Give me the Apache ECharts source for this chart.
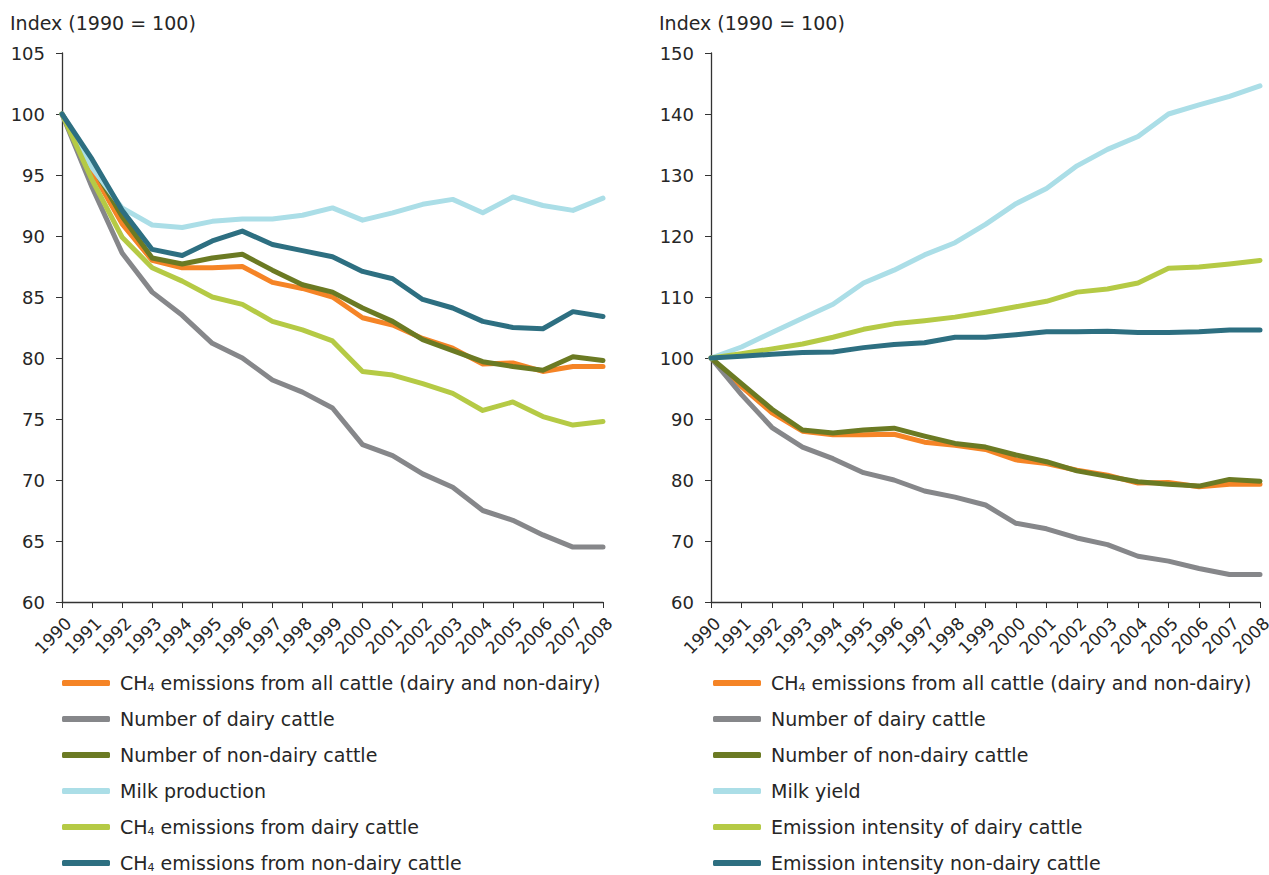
<!DOCTYPE html>
<html>
<head>
<meta charset="utf-8">
<script src="https://cdn.jsdelivr.net/npm/echarts@6/dist/echarts.min.js"></script>
<style>
  html, body { margin: 0; padding: 0; background: #fff; }
  #chart { width: 1269px; height: 875px; }
</style>
</head>
<body>
<div id="chart"></div>
<script>
const years = ['1990', '1991', '1992', '1993', '1994', '1995', '1996', '1997', '1998', '1999',
  '2000', '2001', '2002', '2003', '2004', '2005', '2006', '2007', '2008'];

// shared by both panels
const allCattleCH4 = [100, 95.3, 91.0, 88.0, 87.4, 87.4, 87.5, 86.2, 85.7, 85.0, 83.3, 82.7, 81.6, 80.8, 79.5, 79.6, 78.9, 79.3, 79.3];
const dairyNumber = [100, 94.0, 88.6, 85.4, 83.5, 81.2, 80.0, 78.2, 77.2, 75.9, 72.9, 72.0, 70.5, 69.4, 67.5, 66.7, 65.5, 64.5, 64.5];
const nonDairyNumber = [100, 95.8, 91.6, 88.2, 87.7, 88.2, 88.5, 87.2, 86.0, 85.4, 84.1, 83.0, 81.5, 80.6, 79.7, 79.3, 79.0, 80.1, 79.8];

// left panel
const milkProduction = [100, 95.6, 92.3, 90.9, 90.7, 91.2, 91.4, 91.4, 91.7, 92.3, 91.3, 91.9, 92.6, 93.0, 91.9, 93.2, 92.5, 92.1, 93.1];
const dairyCH4 = [100, 94.6, 89.9, 87.4, 86.3, 85.0, 84.4, 83.0, 82.3, 81.4, 78.9, 78.6, 77.9, 77.1, 75.7, 76.4, 75.2, 74.5, 74.8];
const nonDairyCH4 = [100, 96.3, 92.1, 88.9, 88.4, 89.6, 90.4, 89.3, 88.8, 88.3, 87.1, 86.5, 84.8, 84.1, 83.0, 82.5, 82.4, 83.8, 83.4];

// right panel
const milkYield = [100, 101.8, 104.2, 106.5, 108.8, 112.3, 114.4, 116.9, 118.9, 121.9, 125.3, 127.8, 131.5, 134.2, 136.3, 140.0, 141.5, 142.9, 144.6];
const dairyIntensity = [100, 100.7, 101.5, 102.3, 103.4, 104.7, 105.6, 106.1, 106.7, 107.5, 108.4, 109.3, 110.8, 111.3, 112.3, 114.7, 114.9, 115.4, 116.0];
const nonDairyIntensity = [100, 100.3, 100.6, 100.9, 101.0, 101.7, 102.2, 102.5, 103.4, 103.4, 103.8, 104.3, 104.3, 104.4, 104.2, 104.2, 104.3, 104.6, 104.6];

const leftNames = [
  'CH4 emissions from all cattle (dairy and non-dairy)',
  'Number of dairy cattle',
  'Number of non-dairy cattle',
  'Milk production',
  'CH4 emissions from dairy cattle',
  'CH4 emissions from non-dairy cattle'
];
// trailing spaces keep the right panel's series apart from the left ones
const rightNames = [
  'CH4 emissions from all cattle (dairy and non-dairy) ',
  'Number of dairy cattle ',
  'Number of non-dairy cattle ',
  'Milk yield',
  'Emission intensity of dairy cattle',
  'Emission intensity non-dairy cattle'
];
const colors = ['#f58426', '#86878a', '#6b7a23', '#abdee7', '#b5ca45', '#2d6f81'];

const FONT = 'DejaVu Sans';
const textColor = '#262626';

const leftData = [allCattleCH4, dairyNumber, nonDairyNumber, milkProduction, dairyCH4, nonDairyCH4];
const rightData = [allCattleCH4, dairyNumber, nonDairyNumber, milkYield, dairyIntensity, nonDairyIntensity];

function makeSeries(names, data, idx) {
  return names.map((name, i) => ({
    name: name,
    type: 'line',
    xAxisIndex: idx,
    yAxisIndex: idx,
    data: data[i],
    symbol: 'none',
    silent: true,
    z: 2 + i,
    itemStyle: { color: colors[i] },
    lineStyle: { color: colors[i], width: 5, cap: 'round', join: 'round' }
  }));
}

function xAxisFor(idx) {
  return {
    type: 'category',
    gridIndex: idx,
    data: years,
    boundaryGap: false,
    axisLine: { lineStyle: { color: '#333', width: 1.3 } },
    axisTick: { show: true, interval: 0, length: 6, lineStyle: { color: '#333' } },
    axisLabel: {
      interval: 0, rotate: 45, margin: 12,
      verticalAlign: 'top', lineHeight: 18,
      fontFamily: FONT, fontSize: 17, color: textColor
    }
  };
}

function yAxisFor(idx, min, max, step) {
  return {
    type: 'value',
    gridIndex: idx,
    min: min,
    max: max,
    interval: step,
    splitLine: { show: false },
    axisLine: { show: true, lineStyle: { color: '#333', width: 1.3 } },
    axisTick: { show: true, length: 6, lineStyle: { color: '#333' } },
    axisLabel: { margin: 17, fontFamily: FONT, fontSize: 18, color: textColor }
  };
}

function legendFor(names, left) {
  return {
    orient: 'vertical',
    left: left,
    top: 673,
    padding: 0,
    itemWidth: 48,
    itemHeight: 6,
    itemGap: 16,
    icon: 'roundRect',
    selectedMode: false,
    data: names,
    formatter: (name) => name.trim().replace(/^CH4/, 'CH{sub|4}'),
    textStyle: {
      fontFamily: FONT,
      fontSize: 19,
      color: textColor,
      lineHeight: 20,
      padding: [0, 0, 0, 5],
      rich: {
        sub: { fontFamily: FONT, fontSize: 11, verticalAlign: 'bottom', lineHeight: 12, color: textColor }
      }
    }
  };
}

const titleStyle = { fontFamily: FONT, fontSize: 19, fontWeight: 'normal', color: textColor };

const chart = echarts.init(document.getElementById('chart'), null, { renderer: 'svg' });

chart.setOption({
  animation: false,
  backgroundColor: '#fff',
  title: [
    { text: 'Index (1990 = 100)', left: 5, top: 8, textStyle: titleStyle },
    { text: 'Index (1990 = 100)', left: 654, top: 8, textStyle: titleStyle }
  ],
  grid: [
    { left: 62, top: 53, width: 541, height: 549, outerBoundsMode: 'none' },
    { left: 711, top: 53, width: 549, height: 549, outerBoundsMode: 'none' }
  ],
  xAxis: [xAxisFor(0), xAxisFor(1)],
  yAxis: [yAxisFor(0, 60, 105, 5), yAxisFor(1, 60, 150, 10)],
  legend: [legendFor(leftNames, 62), legendFor(rightNames, 713)],
  series: makeSeries(leftNames, leftData, 0).concat(makeSeries(rightNames, rightData, 1))
});
</script>
</body>
</html>
